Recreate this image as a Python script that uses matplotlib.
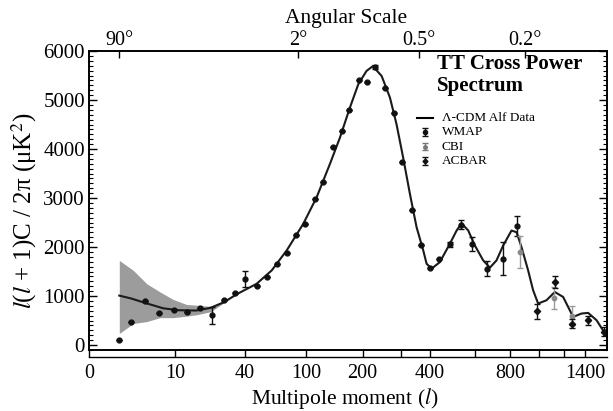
import numpy as np
import matplotlib
matplotlib.use("Agg")
import matplotlib.pyplot as plt
from matplotlib.scale import FuncScale

plt.rcParams['font.family'] = ['Liberation Serif', 'DejaVu Serif']
plt.rcParams['mathtext.fontset'] = 'stix'

# ---------------- data ----------------
theory_l = [2, 3, 4.8, 7.5, 11, 16, 21.5, 28, 35, 48.6, 61.5, 76.6, 96.4, 115, 136,
            153.8, 173, 190.5, 209, 224, 246.4, 269, 288, 308, 329.7, 352, 375.5,
            387.7, 406.5, 439, 481, 511, 534, 566, 599, 643, 680, 718, 758, 810,
            843, 876, 922, 958, 995, 1059, 1126, 1196, 1284, 1362, 1426, 1510, 1610]
theory_D = [1010, 950, 850, 750, 711, 705, 760, 880, 1040, 1250, 1524, 1931, 2473,
            3014, 3693, 4234, 4845, 5321, 5593, 5690, 5491, 5050, 4506, 3828, 3083,
            2405, 1931, 1660, 1559, 1693, 2067, 2337, 2486, 2337, 2033, 1728, 1580,
            1728, 2033, 2337, 2303, 2000, 1524, 1118, 847, 915, 1083, 982, 575, 644,
            657, 508, 203]

band_l = [2, 3.2, 4.8, 6.9, 9.6, 13, 16.3, 21.5, 28]
band_hi = [1728, 1524, 1250, 1083, 930, 830, 813, 790, 890]
band_lo = [237, 441, 480, 560, 560, 590, 620, 680, 870]

wmap_l = [2, 3, 4.6, 6.7, 9.8, 13.2, 17.4, 22.3, 27.8, 33.8, 40.4, 48.7, 56.9, 66.8,
          77.3, 87.3, 98.7, 112.5, 125, 141, 157, 172, 191, 209, 229, 255, 280, 306,
          335, 368, 400, 436, 481, 530, 587, 663, 755, 843]
wmap_D = [110, 480, 890, 645, 710, 677, 752, 610, 930, 1063, 1348, 1213, 1388, 1646,
          1884, 2256, 2473, 2975, 3335, 4045, 4370, 4790, 5406, 5366, 5677, 5238,
          4742, 3726, 2758, 2050, 1580, 1762, 2053, 2459, 2067, 1560, 1762, 2430]
wmap_err = [0, 0, 0, 0, 0, 0, 0, 170, 0, 0, 160, 0, 0, 0, 0, 0, 0, 0, 0, 0, 0, 0,
            0, 0, 40, 0, 0, 0, 0, 0, 0, 0, 60, 100, 140, 150, 340, 200]

cbi_l = [865, 1120, 1270]
cbi_D = [1900, 960, 600]
cbi_err = [330, 220, 200]

acbar_l = [983, 1126, 1270, 1426, 1586]
acbar_D = [690, 1290, 440, 510, 270]
acbar_err = [150, 120, 100, 90, 90]

xtick_vals = [10, 40, 100, 200, 400, 800, 1400]
xtick_labels = ['10', '40', '100', '200', '400', '800', '1400']
xminor_vals = [300, 600, 1000, 1200]
angle_vals = [90, 2, 0.5, 0.2]
angle_labels = ['90°', '2°', '0.5°', '0.2°']
legend_labels = ['Λ-CDM Alf Data', 'WMAP', 'CBI', 'ACBAR']

# ---------------- figure ----------------
fig = plt.figure(figsize=(6.13, 4.11), dpi=100)
L, R, T, B = 89, 607, 51, 350
W, H = 613, 411
ax = fig.add_axes([L / W, 1 - B / H, (R - L) / W, (B - T) / H])


def fwd(x):
    return np.power(np.clip(x, 0, None), 0.25)


def inv(u):
    return np.power(np.clip(u, 0, None), 4)


def axfx(px):
    return (px - L) / (R - L)


def axfy(py):
    return (B - py) / (B - T)


ax.set_xscale(FuncScale(ax.xaxis, (fwd, inv)))
xlo, xhi = 0.57, 1620
ax.set_xlim(xlo, xhi)
ax.set_ylim(-100, 6000)

ax.fill_between(band_l, band_lo, band_hi, color='#9c9c9c', lw=0, zorder=1)
ax.plot(theory_l, theory_D, color='#1a1a1a', lw=1.5, zorder=3)

ax.errorbar(wmap_l, wmap_D, yerr=wmap_err, fmt='o', ms=3.5, color='#111111',
            ecolor='#111111', elinewidth=1.0, capsize=2.5, zorder=4)
ax.errorbar(cbi_l, cbi_D, yerr=cbi_err, fmt='o', ms=3.2, color='#8a8a8a',
            ecolor='#9a9a9a', elinewidth=1.0, capsize=2.5, zorder=4)
ax.errorbar(acbar_l, acbar_D, yerr=acbar_err, fmt='D', ms=3.2, color='#111111',
            ecolor='#111111', elinewidth=1.0, capsize=2.5, zorder=5)

# ticks
ax.set_xticks([xlo] + xtick_vals)
ax.set_xticklabels(['0'] + xtick_labels)
ax.set_xticks(xminor_vals, minor=True)
ax.set_yticks(np.arange(0, 6001, 1000))
ax.set_yticks(np.arange(-100, 6001, 100), minor=True)
ax.tick_params(axis='x', which='both', direction='out', length=5, width=1,
               labelsize=14.5, pad=5, top=False)
ax.tick_params(axis='y', which='major', direction='in', length=6, width=1,
               labelsize=15, pad=3, right=True)
ax.tick_params(axis='y', which='minor', direction='in', length=3, width=0.8,
               right=True)
for s in ax.spines.values():
    s.set_linewidth(1.2)
# double bottom rule
ax.plot([0, 1], [-7 / 300, -7 / 300], transform=ax.transAxes, color='k', lw=1.0,
        clip_on=False)

ax.set_xlabel(r'Multipole moment ($\mathit{l}$)', fontsize=15.5)
ax.xaxis.set_label_coords(axfx(345), axfy(386))
ax.set_ylabel(r'$\mathit{l}$($\mathit{l}$ + 1)C / 2π (μK$^2$)', fontsize=18)
ax.yaxis.set_label_coords(axfx(39), axfy(211))

# top angular-scale axis
ax2 = ax.twiny()
ax2.set_xscale(FuncScale(ax2.xaxis, (fwd, inv)))
ax2.set_xlim(xlo, xhi)
ax2.set_xticks([180.0 / a for a in angle_vals])
ax2.set_xticklabels(angle_labels)
ax2.xaxis.set_minor_locator(matplotlib.ticker.NullLocator())
ax2.tick_params(axis='x', direction='in', length=5, width=1, labelsize=14.5, pad=1)
ax2.set_xlabel('Angular Scale', fontsize=15.5)
ax2.xaxis.set_label_coords(axfx(346), axfy(23))
for s in ax2.spines.values():
    s.set_linewidth(1.2)

# title text
ax.text(axfx(437), axfy(75), 'TT Cross Power\nSpectrum', transform=ax.transAxes,
        fontsize=15, fontweight='bold', ha='left', va='center', linespacing=1.15)

# legend (manual)
rows = [117.5, 132, 146.5, 161]
ax.plot([axfx(417), axfx(433)], [axfy(rows[0])] * 2, transform=ax.transAxes,
        color='k', lw=1.5, clip_on=False)
ax.errorbar([axfx(425)], [axfy(rows[1])], yerr=[0.013], fmt='o', ms=3, color='#111111',
            capsize=2, elinewidth=1, transform=ax.transAxes)
ax.errorbar([axfx(425)], [axfy(rows[2])], yerr=[0.013], fmt='o', ms=2.5, color='#777777',
            capsize=2, elinewidth=1, transform=ax.transAxes)
ax.errorbar([axfx(425)], [axfy(rows[3])], yerr=[0.013], fmt='D', ms=2.5, color='#111111',
            capsize=2, elinewidth=1, transform=ax.transAxes)
for r, lab in zip(rows, legend_labels):
    ax.text(axfx(442), axfy(r), lab, transform=ax.transAxes, fontsize=9.5,
            ha='left', va='center')

fig.savefig('out.png', dpi=100)
